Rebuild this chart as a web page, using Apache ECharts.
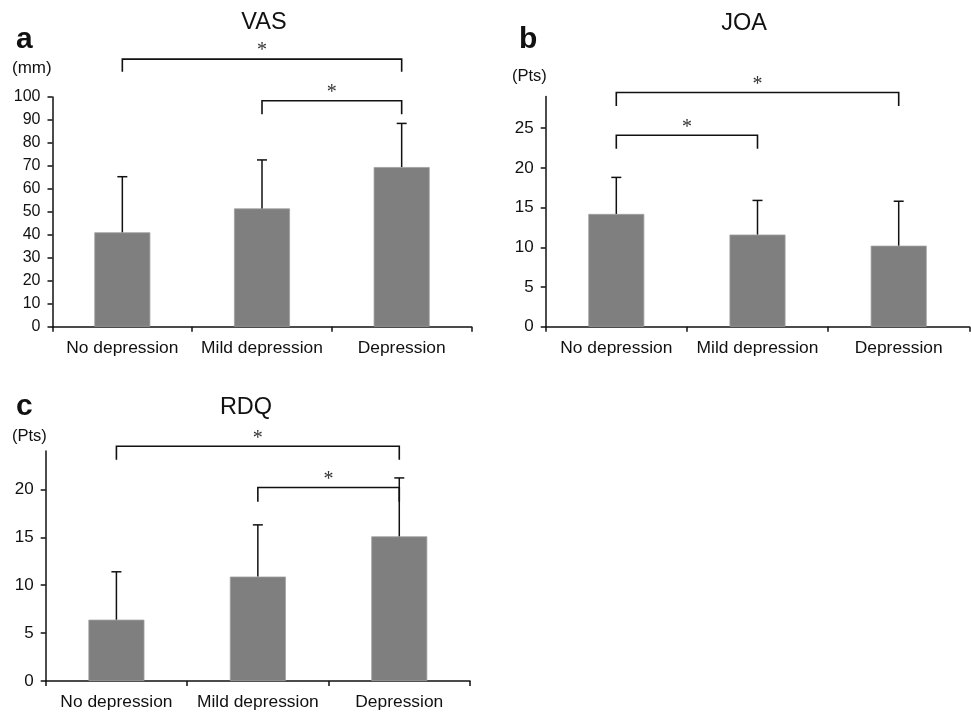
<!DOCTYPE html>
<html>
<head>
<meta charset="utf-8">
<script src="https://cdn.jsdelivr.net/npm/echarts@6/dist/echarts.min.js"></script>
<style>
  html, body { margin: 0; padding: 0; background: #fff; }
  #chart { width: 971px; height: 713px; }
</style>
</head>
<body>
<div id="chart"></div>
<script>
// groups shown on every panel
const categories = ['No depression', 'Mild depression', 'Depression'];

// bar means and the top of the error bars (mean + SD)
const vasMean = [41.1, 51.5, 69.5];
const vasUpper = [65.3, 72.6, 88.5];
const joaMean = [14.2, 11.6, 10.2];
const joaUpper = [18.8, 15.9, 15.8];
const rdqMean = [6.4, 10.9, 15.1];
const rdqUpper = [11.4, 16.3, 21.2];

// y tick labels
const vasTicks = [0, 10, 20, 30, 40, 50, 60, 70, 80, 90, 100];
const joaTicks = [0, 5, 10, 15, 20, 25];
const rdqTicks = [0, 5, 10, 15, 20];

// significance brackets: [from group, to group, bracket level, leg bottom]
const vasBrackets = [[0, 2, 116.5, 111], [1, 2, 98.4, 92.5]];
const joaBrackets = [[0, 2, 29.5, 27.8], [0, 1, 24.1, 22.4]];
const rdqBrackets = [[0, 2, 24.5, 23.1], [1, 2, 20.2, 18.7]];

const FONT = "'Liberation Sans', Arial, sans-serif";
const INK = '#111';

const chart = echarts.init(document.getElementById('chart'));

// panel layout (px)
const panels = [
  { left: 52.5, top: 97, width: 419, height: 229.7, max: 100, tickFont: 16, ticks: vasTicks, mean: vasMean, upper: vasUpper, brackets: vasBrackets },
  { left: 545.7, top: 96.4, width: 423.6, height: 230.3, max: 29, tickFont: 17, ticks: joaTicks, mean: joaMean, upper: joaUpper, brackets: joaBrackets },
  { left: 45.7, top: 451.1, width: 424.3, height: 229.9, max: 24, tickFont: 17, ticks: rdqTicks, mean: rdqMean, upper: rdqUpper, brackets: rdqBrackets }
];

// error bar: line from the bar top up to mean+SD with a small cap
function renderError(params, api) {
  const base = api.coord([api.value(0), api.value(1)]);
  const top = api.coord([api.value(0), api.value(2)]);
  const style = { stroke: INK, lineWidth: 1.5 };
  return {
    type: 'group',
    children: [
      { type: 'line', shape: { x1: base[0], y1: base[1], x2: top[0], y2: top[1] }, style: style },
      { type: 'line', shape: { x1: top[0] - 5, y1: top[1], x2: top[0] + 5, y2: top[1] }, style: style }
    ]
  };
}

// bracket with the asterisk above it
function renderBracket(params, api) {
  const p1 = api.coord([api.value(0), api.value(2)]);
  const p2 = api.coord([api.value(1), api.value(2)]);
  const l1 = api.coord([api.value(0), api.value(3)]);
  const l2 = api.coord([api.value(1), api.value(3)]);
  return {
    type: 'group',
    children: [
      {
        type: 'polyline',
        shape: { points: [l1, p1, p2, l2] },
        style: { stroke: INK, lineWidth: 1.6, fill: null }
      },
      {
        type: 'text',
        x: (p1[0] + p2[0]) / 2,
        y: p1[1] - 8,
        style: { text: '*', font: "20px 'Liberation Serif', serif", fill: '#333', align: 'center', verticalAlign: 'middle' }
      }
    ]
  };
}

const grid = [], xAxis = [], yAxis = [], series = [];
panels.forEach((p, i) => {
  grid.push({ left: p.left, top: p.top, width: p.width, height: p.height });
  xAxis.push({
    type: 'category',
    gridIndex: i,
    data: categories,
    axisLine: { lineStyle: { color: INK, width: 1.5 } },
    axisTick: { show: true, interval: 0, length: 5, lineStyle: { color: INK, width: 1.5 } },
    axisLabel: { interval: 0, margin: 13, color: INK, fontSize: 17.4, fontFamily: FONT }
  });
  yAxis.push({
    type: 'value',
    gridIndex: i,
    min: 0,
    max: p.max,
    splitLine: { show: false },
    axisLine: { show: true, lineStyle: { color: INK, width: 1.5 } },
    axisTick: { show: true, length: 5, customValues: p.ticks, lineStyle: { color: INK, width: 1.5 } },
    axisLabel: { customValues: p.ticks, margin: 12, color: INK, fontSize: p.tickFont, fontFamily: FONT }
  });
  series.push({
    type: 'bar',
    xAxisIndex: i,
    yAxisIndex: i,
    barWidth: 56,
    data: p.mean,
    itemStyle: { color: '#7f7f7f', borderColor: '#a0a0a0', borderWidth: 0.8 },
    silent: true
  });
  series.push({
    type: 'custom',
    xAxisIndex: i,
    yAxisIndex: i,
    renderItem: renderError,
    data: p.mean.map((m, k) => [k, m, p.upper[k]]),
    silent: true,
    z: 3
  });
  series.push({
    type: 'custom',
    xAxisIndex: i,
    yAxisIndex: i,
    renderItem: renderBracket,
    data: p.brackets,
    clip: false,
    silent: true,
    z: 3
  });
});

function label(text, x, y, size, align, bold) {
  return {
    type: 'text',
    x: x,
    y: y,
    style: {
      text: text,
      font: (bold ? 'bold ' : '') + size + 'px ' + FONT,
      fill: INK,
      align: align,
      verticalAlign: 'middle'
    }
  };
}

const graphic = [
  label('VAS', 264, 22.5, 23.5, 'center'),
  label('JOA', 744, 24, 23.5, 'center'),
  label('RDQ', 246, 408, 23.5, 'center'),
  label('a', 16, 40, 30, 'left', true),
  label('b', 519, 40, 30, 'left', true),
  label('c', 16, 407, 30, 'left', true),
  label('(mm)', 12, 68, 17, 'left'),
  label('(Pts)', 512, 76, 16.5, 'left'),
  label('(Pts)', 12, 436, 16.5, 'left')
];

chart.setOption({
  animation: false,
  grid: grid,
  xAxis: xAxis,
  yAxis: yAxis,
  series: series,
  graphic: graphic
});
</script>
</body>
</html>
